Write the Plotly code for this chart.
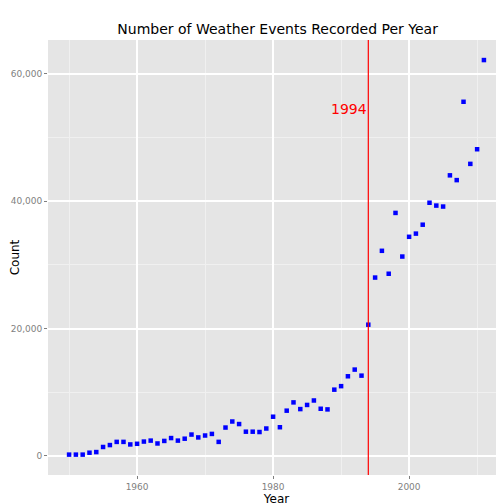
import plotly.graph_objects as go

years = list(range(1950, 2012))
counts = [200, 200, 200, 500, 600, 1400, 1700, 2200, 2200, 1800,
          1900, 2250, 2400, 1950, 2350, 2800, 2400, 2700, 3350, 2900,
          3200, 3450, 2200, 4450, 5400, 5000, 3800, 3800, 3750, 4300,
          6150, 4500, 7100, 8400, 7350, 8000, 8700, 7400, 7300, 10400,
          10950, 12500, 13550, 12600, 20600, 28000, 32200, 28600, 38150, 31300,
          34400, 34900, 36300, 39750, 39300, 39150, 44050, 43300, 55600, 45850,
          48150, 62150]
vline_year = 1994

fig = go.Figure()
fig.add_trace(go.Scatter(x=years, y=counts, mode="markers",
                         marker=dict(color="#0000ff", size=4.5, symbol="square")))
fig.add_vline(x=vline_year, line=dict(color="red", width=1.2))
fig.add_annotation(x=1991.2, y=54500, text=str(vline_year), showarrow=False,
                   font=dict(color="red", size=14))
grid = "white"
fig.update_layout(
    width=504, height=504, showlegend=False,
    paper_bgcolor="white", plot_bgcolor="#e5e5e5",
    margin=dict(l=40, r=7, t=32, b=37),
    font=dict(family="DejaVu Sans", color="black"),
    title=dict(text="Number of Weather Events Recorded Per Year", x=0.535, y=0.967,
               xanchor="center", font=dict(size=14)),
    xaxis=dict(title=dict(text="Year", font=dict(size=12), standoff=0),
               range=[1946.9, 2014.1], tickvals=[1960, 1980, 2000], automargin=False,
               gridcolor=grid, gridwidth=1.5, zeroline=False,
               ticks="outside", ticklen=3, tickcolor="#7f7f7f",
               tickfont=dict(size=9, color="#7f7f7f"), minor=dict(dtick=10, gridcolor="#f0f0f0", gridwidth=0.6)),
    yaxis=dict(title=dict(text="Count", font=dict(size=12), standoff=4),
               range=[-3000, 65300], tickvals=[0, 20000, 40000, 60000], automargin=False,
               tickformat=",", gridcolor=grid, gridwidth=1.5, zeroline=False,
               ticks="outside", ticklen=3, tickcolor="#7f7f7f",
               tickfont=dict(size=9, color="#7f7f7f"), minor=dict(dtick=10000, gridcolor="#f0f0f0", gridwidth=0.6)),
)
fig.write_html("out.html")
